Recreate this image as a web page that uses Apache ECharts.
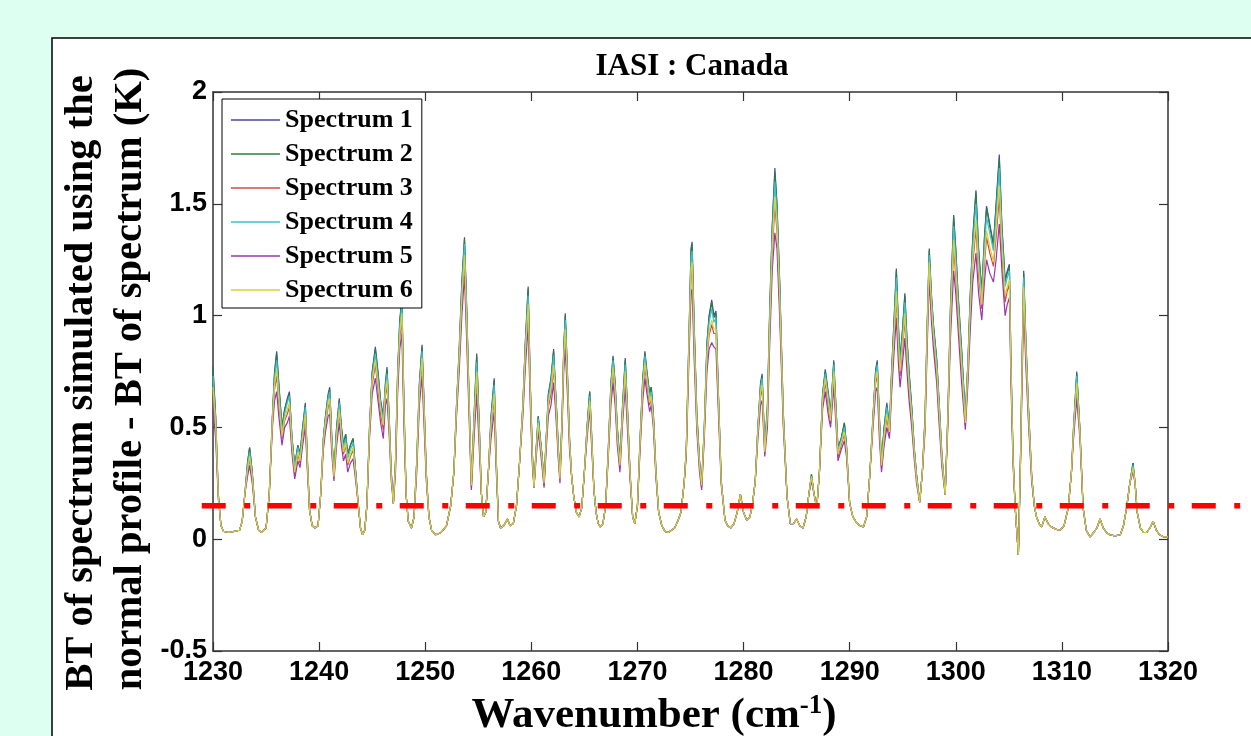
<!DOCTYPE html>
<html><head><meta charset="utf-8">
<script src="https://cdn.jsdelivr.net/npm/echarts@6/dist/echarts.min.js"></script>
<style>html,body{margin:0;padding:0;background:#dcfff2}#c{width:1251px;height:736px}</style>
</head><body><div id="c"></div>
<script>
// Wavenumber sample positions (cm^-1)
const WN=[1230,1230.25,1230.5,1230.75,1231,1231.5,1232,1232.5,1232.75,1233,
1233.25,1233.45,1233.7,1234,1234.3,1234.6,1235,1235.3,1235.6,1235.8,
1236,1236.2,1236.5,1236.75,1237,1237.2,1237.45,1237.7,1238,1238.2,
1238.45,1238.7,1238.9,1239.1,1239.35,1239.6,1239.9,1240.15,1240.4,1240.6,
1240.85,1241,1241.2,1241.4,1241.65,1241.9,1242.1,1242.3,1242.5,1242.7,
1242.95,1243.2,1243.45,1243.7,1243.9,1244.1,1244.3,1244.5,1244.75,1245,
1245.3,1245.55,1245.8,1246.05,1246.25,1246.4,1246.6,1246.8,1247,1247.2,
1247.4,1247.6,1247.8,1248,1248.2,1248.4,1248.7,1248.95,1249.2,1249.45,
1249.7,1249.9,1250.1,1250.35,1250.6,1251,1251.5,1252,1252.4,1252.7,
1252.95,1253.2,1253.45,1253.7,1253.9,1254.1,1254.35,1254.6,1254.85,1255.1,
1255.3,1255.5,1255.7,1255.95,1256.2,1256.5,1256.7,1256.9,1257.1,1257.4,
1257.75,1258,1258.3,1258.6,1258.9,1259.2,1259.45,1259.7,1259.9,1260.1,
1260.25,1260.45,1260.65,1260.85,1261,1261.2,1261.4,1261.6,1261.85,1262.1,
1262.25,1262.4,1262.55,1262.7,1262.9,1263.05,1263.2,1263.4,1263.6,1263.8,
1264,1264.25,1264.5,1264.75,1265,1265.25,1265.5,1265.7,1265.9,1266.1,
1266.3,1266.5,1266.75,1267,1267.25,1267.5,1267.7,1267.9,1268.1,1268.35,
1268.6,1268.85,1269.05,1269.3,1269.55,1269.75,1270,1270.25,1270.5,1270.7,
1270.9,1271.15,1271.3,1271.5,1271.75,1272,1272.3,1272.6,1272.9,1273.2,
1273.5,1273.8,1274.1,1274.4,1274.6,1274.85,1275.05,1275.15,1275.35,1275.6,
1275.85,1276.05,1276.3,1276.55,1276.75,1277,1277.2,1277.4,1277.6,1277.9,
1278.25,1278.5,1278.8,1279.1,1279.4,1279.7,1280,1280.3,1280.6,1280.85,
1281.1,1281.35,1281.6,1281.75,1282,1282.25,1282.45,1282.7,1282.95,1283.15,
1283.4,1283.75,1284.1,1284.4,1284.7,1285,1285.3,1285.6,1285.9,1286.15,
1286.4,1286.65,1286.9,1287.15,1287.45,1287.7,1288,1288.2,1288.5,1288.7,
1288.9,1289.2,1289.5,1289.7,1290,1290.3,1290.7,1291,1291.3,1291.6,
1291.9,1292.2,1292.45,1292.6,1292.8,1293,1293.25,1293.5,1293.75,1293.95,
1294.2,1294.4,1294.6,1294.75,1295,1295.2,1295.4,1295.6,1295.85,1296.1,
1296.3,1296.6,1296.85,1297.1,1297.3,1297.5,1297.7,1297.9,1298.2,1298.45,
1298.7,1299,1299.25,1299.5,1299.8,1300,1300.2,1300.55,1300.9,1301.15,
1301.35,1301.6,1301.9,1302.15,1302.45,1302.7,1302.9,1303.2,1303.55,1303.8,
1304.1,1304.35,1304.65,1304.85,1305.05,1305.2,1305.4,1305.6,1305.9,1306.1,
1306.25,1306.4,1306.6,1306.85,1307.15,1307.4,1307.6,1307.85,1308.1,1308.4,
1308.7,1309,1309.4,1309.8,1310.2,1310.6,1310.9,1311.1,1311.4,1311.7,
1312,1312.3,1312.65,1313,1313.3,1313.6,1313.9,1314.2,1314.5,1315,
1315.5,1315.8,1316.1,1316.4,1316.7,1316.9,1317.1,1317.4,1317.7,1318,
1318.3,1318.6,1318.9,1319.2,1319.6,1320];

const S1=[.77,.55,.2,.06,.035,.03,.035,.04,.08,.2,
.34,.41,.30,.1,.04,.03,.05,.2,.55,.75,
.84,.70,.50,.58,.63,.66,.45,.33,.42,.38,
.50,.61,.35,.13,.06,.05,.06,.2,.45,.55,
.65,.68,.45,.30,.50,.63,.50,.42,.47,.38,
.42,.45,.30,.15,.05,.02,.04,.15,.50,.75,
.86,.75,.62,.55,.70,.77,.55,.30,.16,.35,
.75,.98,1.08,.60,.2,.08,.05,.1,.35,.70,
.87,.60,.30,.1,.04,.02,.03,.06,.15,.3,
.60,.85,1.15,1.35,1.05,.70,.25,.55,.83,.50,
.2,.1,.12,.3,.55,.72,.35,.08,.05,.06,
.09,.06,.07,.15,.35,.60,.90,1.13,.70,.38,
.23,.40,.55,.45,.38,.26,.45,.65,.72,.85,
.70,.56,.40,.29,.55,.85,1.01,.75,.45,.28,
.19,.12,.1,.14,.3,.50,.66,.45,.22,.12,
.07,.055,.07,.15,.40,.70,.82,.70,.50,.35,
.60,.81,.60,.30,.1,.07,.15,.45,.72,.84,
.75,.65,.68,.56,.30,.12,.06,.035,.03,.04,
.05,.08,.12,.25,.40,.90,1.30,1.33,.95,.56,
.35,.25,.50,.88,1.00,1.07,1.00,1.02,.70,.26,
.085,.06,.05,.07,.12,.2,.12,.085,.1,.16,
.26,.50,.70,.74,.41,.60,1.00,1.40,1.66,1.50,
1.16,.56,.19,.07,.07,.09,.06,.05,.1,.2,
.29,.2,.14,.3,.65,.76,.65,.56,.80,.60,
.41,.45,.52,.42,.16,.1,.07,.06,.055,.1,
.29,.55,.76,.80,.55,.35,.50,.61,.50,.75,
1.00,1.21,.95,.81,.95,1.10,.90,.75,.59,.40,
.29,.165,.3,.54,.95,1.30,1.10,.96,.81,.60,
.37,.2,.55,1.04,1.45,1.30,1.11,.85,.55,.80,
1.08,1.35,1.56,1.30,1.11,1.35,1.49,1.41,1.32,1.50,
1.72,1.40,1.16,1.20,1.23,.80,.37,.14,-.07,.37,
.80,1.20,.90,.59,.29,.15,.1,.07,.055,.1,
.07,.055,.045,.04,.06,.14,.3,.50,.75,.49,
.14,.04,.01,.03,.05,.09,.05,.03,.02,.015,
.02,.06,.14,.25,.34,.25,.12,.05,.03,.03,
.05,.08,.04,.02,.01,.01];

const S2=[.76,.55,.2,.06,.035,.03,.035,.04,.08,.2,
.34,.41,.30,.1,.04,.03,.05,.2,.55,.74,
.83,.69,.50,.58,.62,.65,.45,.33,.42,.38,
.50,.60,.35,.13,.06,.05,.06,.2,.45,.55,
.64,.67,.45,.30,.50,.62,.50,.42,.47,.38,
.42,.45,.30,.15,.05,.02,.04,.15,.50,.74,
.85,.74,.61,.54,.69,.76,.55,.30,.16,.35,
.74,.97,1.07,.59,.2,.08,.05,.1,.35,.69,
.86,.59,.30,.1,.04,.02,.03,.06,.15,.3,
.60,.84,1.14,1.34,1.04,.69,.25,.54,.82,.50,
.2,.1,.12,.3,.54,.71,.35,.08,.05,.06,
.09,.06,.07,.15,.35,.60,.89,1.12,.69,.38,
.23,.40,.55,.45,.38,.26,.45,.64,.71,.84,
.69,.56,.40,.29,.55,.84,1.00,.74,.45,.28,
.19,.12,.1,.14,.3,.50,.66,.45,.22,.12,
.07,.055,.07,.15,.40,.69,.81,.69,.50,.35,
.60,.80,.59,.30,.1,.07,.15,.45,.71,.83,
.74,.65,.68,.56,.30,.12,.06,.035,.03,.04,
.05,.08,.12,.25,.40,.89,1.29,1.32,.94,.56,
.35,.25,.50,.87,.99,1.06,.99,1.01,.69,.26,
.085,.06,.05,.07,.12,.2,.12,.085,.1,.16,
.26,.50,.69,.73,.41,.59,.99,1.39,1.64,1.49,
1.15,.56,.19,.07,.07,.09,.06,.05,.1,.2,
.29,.2,.14,.3,.65,.75,.64,.56,.79,.60,
.41,.45,.52,.42,.16,.1,.07,.06,.055,.1,
.29,.55,.75,.79,.54,.35,.50,.60,.50,.74,
.99,1.20,.94,.80,.94,1.09,.89,.74,.59,.40,
.29,.165,.3,.54,.94,1.29,1.09,.95,.80,.59,
.37,.2,.55,1.03,1.44,1.29,1.10,.84,.55,.79,
1.07,1.34,1.55,1.29,1.10,1.34,1.48,1.40,1.31,1.49,
1.70,1.39,1.15,1.19,1.22,.79,.37,.14,-.07,.37,
.79,1.19,.89,.59,.29,.15,.1,.07,.055,.1,
.07,.055,.045,.04,.06,.14,.3,.50,.74,.49,
.14,.04,.01,.03,.05,.09,.05,.03,.02,.015,
.02,.06,.14,.25,.34,.25,.12,.05,.03,.03,
.05,.08,.04,.02,.01,.01];

const S3=[.66,.49,.19,.06,.035,.03,.035,.04,.08,.2,
.30,.36,.27,.1,.04,.03,.05,.2,.52,.67,
.73,.61,.45,.53,.56,.59,.41,.29,.38,.34,
.45,.54,.32,.13,.06,.05,.06,.2,.42,.51,
.59,.61,.41,.28,.45,.56,.45,.38,.42,.33,
.37,.40,.28,.15,.05,.02,.04,.15,.47,.69,
.78,.67,.56,.49,.64,.69,.50,.28,.16,.32,
.69,.90,.98,.54,.2,.08,.05,.1,.32,.64,
.79,.54,.28,.1,.04,.02,.03,.06,.15,.3,
.57,.79,1.06,1.25,.96,.64,.23,.49,.72,.44,
.2,.1,.12,.3,.49,.63,.32,.08,.05,.06,
.09,.06,.07,.15,.35,.57,.83,1.02,.64,.35,
.23,.38,.51,.42,.35,.24,.42,.59,.65,.76,
.64,.51,.37,.27,.52,.79,.91,.69,.42,.28,
.19,.12,.1,.14,.3,.47,.61,.42,.22,.12,
.07,.055,.07,.15,.38,.64,.75,.64,.45,.32,
.55,.73,.54,.28,.1,.07,.15,.42,.66,.77,
.69,.60,.63,.52,.28,.12,.06,.035,.03,.04,
.05,.08,.12,.25,.38,.84,1.18,1.20,.86,.51,
.32,.23,.47,.80,.91,.96,.92,.92,.64,.25,
.085,.06,.05,.07,.12,.2,.12,.085,.1,.16,
.26,.47,.64,.67,.39,.54,.91,1.28,1.49,1.38,
1.06,.52,.19,.07,.07,.09,.06,.05,.1,.2,
.27,.2,.14,.3,.61,.70,.59,.52,.73,.55,
.37,.42,.47,.39,.16,.1,.07,.06,.055,.1,
.29,.52,.70,.73,.49,.32,.45,.54,.47,.69,
.91,1.08,.85,.73,.86,.98,.81,.67,.54,.37,
.27,.165,.3,.50,.89,1.22,1.03,.89,.74,.54,
.34,.2,.52,.96,1.30,1.18,1.01,.76,.51,.74,
.98,1.23,1.39,1.18,1.03,1.23,1.35,1.28,1.22,1.35,
1.53,1.28,1.06,1.11,1.14,.74,.35,.14,-.07,.35,
.74,1.11,.83,.55,.27,.15,.1,.07,.055,.1,
.07,.055,.045,.04,.06,.14,.3,.47,.68,.47,
.14,.04,.01,.03,.05,.09,.05,.03,.02,.015,
.02,.06,.14,.25,.32,.25,.12,.05,.03,.03,
.05,.08,.04,.02,.01,.01];

const S4=[.73,.53,.2,.06,.035,.03,.035,.04,.08,.2,
.33,.39,.29,.1,.04,.03,.05,.2,.54,.72,
.80,.67,.48,.56,.61,.64,.44,.32,.41,.37,
.48,.59,.34,.13,.06,.05,.06,.2,.44,.54,
.63,.66,.44,.29,.48,.61,.48,.41,.45,.36,
.40,.43,.29,.15,.05,.02,.04,.15,.49,.73,
.83,.72,.60,.53,.68,.74,.53,.29,.16,.34,
.73,.95,1.05,.58,.2,.08,.05,.1,.34,.68,
.84,.58,.29,.1,.04,.02,.03,.06,.15,.3,
.59,.83,1.12,1.32,1.02,.68,.24,.53,.79,.48,
.2,.1,.12,.3,.53,.69,.34,.08,.05,.06,
.09,.06,.07,.15,.35,.59,.88,1.09,.68,.37,
.23,.39,.54,.44,.37,.25,.44,.63,.70,.82,
.68,.54,.39,.28,.54,.83,.98,.73,.44,.28,
.19,.12,.1,.14,.3,.49,.64,.44,.22,.12,
.07,.055,.07,.15,.39,.68,.80,.68,.48,.34,
.58,.78,.58,.29,.1,.07,.15,.44,.70,.82,
.73,.63,.66,.55,.29,.12,.06,.035,.03,.04,
.05,.08,.12,.25,.39,.88,1.26,1.29,.92,.54,
.34,.24,.49,.85,.97,1.03,.97,.99,.68,.26,
.085,.06,.05,.07,.12,.2,.12,.085,.1,.16,
.26,.49,.68,.72,.40,.58,.97,1.36,1.60,1.46,
1.13,.55,.19,.07,.07,.09,.06,.05,.1,.2,
.28,.2,.14,.3,.64,.74,.63,.55,.78,.58,
.40,.44,.50,.41,.16,.1,.07,.06,.055,.1,
.29,.54,.74,.78,.53,.34,.48,.59,.49,.73,
.97,1.17,.92,.78,.92,1.06,.87,.72,.57,.39,
.28,.165,.3,.53,.93,1.27,1.08,.94,.79,.58,
.36,.2,.54,1.01,1.40,1.26,1.08,.82,.54,.78,
1.05,1.31,1.50,1.26,1.08,1.31,1.44,1.37,1.29,1.45,
1.66,1.36,1.13,1.17,1.20,.78,.36,.14,-.07,.36,
.78,1.17,.88,.58,.28,.15,.1,.07,.055,.1,
.07,.055,.045,.04,.06,.14,.3,.49,.73,.48,
.14,.04,.01,.03,.05,.09,.05,.03,.02,.015,
.02,.06,.14,.25,.33,.25,.12,.05,.03,.03,
.05,.08,.04,.02,.01,.01];

const S5=[.58,.45,.18,.06,.035,.03,.035,.04,.08,.2,
.28,.33,.25,.1,.04,.03,.05,.2,.50,.62,
.66,.55,.42,.50,.52,.55,.38,.27,.35,.32,
.42,.50,.30,.13,.06,.05,.06,.2,.40,.48,
.55,.56,.38,.26,.42,.52,.42,.35,.38,.30,
.34,.36,.26,.15,.05,.02,.04,.15,.45,.65,
.72,.62,.52,.45,.60,.63,.47,.26,.16,.30,
.65,.85,.92,.50,.2,.08,.05,.1,.30,.60,
.73,.50,.26,.1,.04,.02,.03,.06,.15,.3,
.55,.75,1.00,1.18,.90,.60,.22,.45,.65,.40,
.2,.1,.12,.3,.45,.57,.30,.08,.05,.06,
.09,.06,.07,.15,.35,.55,.78,.95,.60,.33,
.23,.36,.48,.40,.33,.23,.40,.55,.60,.70,
.60,.48,.35,.25,.50,.75,.85,.65,.40,.28,
.19,.12,.1,.14,.3,.45,.58,.40,.22,.12,
.07,.055,.07,.15,.36,.60,.70,.60,.42,.30,
.52,.68,.50,.27,.1,.07,.15,.40,.62,.72,
.65,.57,.60,.50,.27,.12,.06,.035,.03,.04,
.05,.08,.12,.25,.37,.80,1.10,1.12,.80,.48,
.30,.22,.45,.75,.85,.88,.86,.85,.60,.24,
.085,.06,.05,.07,.12,.2,.12,.085,.1,.16,
.26,.45,.60,.62,.37,.50,.85,1.20,1.37,1.30,
1.00,.50,.19,.07,.07,.09,.06,.05,.1,.2,
.26,.2,.14,.3,.58,.66,.55,.50,.68,.52,
.35,.40,.44,.37,.16,.1,.07,.06,.055,.1,
.29,.50,.66,.68,.45,.30,.42,.50,.45,.65,
.85,.99,.78,.68,.80,.90,.75,.62,.50,.35,
.25,.165,.3,.48,.85,1.16,.98,.85,.70,.50,
.32,.2,.50,.90,1.20,1.10,.95,.70,.49,.70,
.92,1.15,1.28,1.10,.98,1.15,1.25,1.19,1.15,1.25,
1.41,1.20,1.00,1.05,1.08,.70,.33,.14,-.07,.33,
.70,1.05,.78,.52,.26,.15,.1,.07,.055,.1,
.07,.055,.045,.04,.06,.14,.3,.45,.63,.45,
.14,.04,.01,.03,.05,.09,.05,.03,.02,.015,
.02,.06,.14,.25,.30,.25,.12,.05,.03,.03,
.05,.08,.04,.02,.01,.01];

const S6=[.68,.51,.19,.06,.035,.03,.035,.04,.08,.2,
.31,.37,.28,.1,.04,.03,.05,.2,.53,.69,
.76,.63,.46,.54,.58,.61,.42,.30,.39,.35,
.46,.56,.33,.13,.06,.05,.06,.2,.43,.52,
.61,.63,.42,.28,.46,.58,.46,.39,.43,.34,
.38,.41,.28,.15,.05,.02,.04,.15,.48,.71,
.80,.69,.58,.51,.66,.71,.51,.28,.16,.33,
.71,.92,1.01,.56,.2,.08,.05,.1,.33,.66,
.81,.56,.28,.1,.04,.02,.03,.06,.15,.3,
.58,.81,1.08,1.27,.98,.66,.24,.51,.75,.46,
.2,.1,.12,.3,.51,.65,.33,.08,.05,.06,
.09,.06,.07,.15,.35,.58,.85,1.05,.66,.36,
.23,.38,.52,.43,.36,.25,.43,.61,.67,.78,
.66,.52,.38,.27,.53,.81,.94,.71,.43,.28,
.19,.12,.1,.14,.3,.48,.62,.43,.22,.12,
.07,.055,.07,.15,.38,.66,.77,.66,.46,.33,
.56,.75,.56,.29,.1,.07,.15,.43,.68,.79,
.71,.61,.64,.53,.29,.12,.06,.035,.03,.04,
.05,.08,.12,.25,.39,.86,1.21,1.24,.88,.52,
.33,.24,.48,.82,.93,.98,.94,.94,.66,.25,
.085,.06,.05,.07,.12,.2,.12,.085,.1,.16,
.26,.48,.66,.69,.39,.56,.93,1.31,1.53,1.41,
1.09,.53,.19,.07,.07,.09,.06,.05,.1,.2,
.28,.2,.14,.3,.62,.72,.61,.53,.75,.56,
.38,.43,.48,.40,.16,.1,.07,.06,.055,.1,
.29,.53,.72,.75,.51,.33,.46,.56,.48,.71,
.93,1.11,.87,.75,.88,1.01,.83,.69,.55,.38,
.27,.165,.3,.51,.91,1.24,1.05,.91,.76,.56,
.35,.2,.53,.98,1.34,1.21,1.04,.78,.52,.76,
1.01,1.26,1.43,1.21,1.05,1.26,1.38,1.31,1.24,1.39,
1.58,1.31,1.09,1.13,1.16,.76,.35,.14,-.07,.35,
.76,1.13,.85,.56,.28,.15,.1,.07,.055,.1,
.07,.055,.045,.04,.06,.14,.3,.48,.70,.47,
.14,.04,.01,.03,.05,.09,.05,.03,.02,.015,
.02,.06,.14,.25,.32,.25,.12,.05,.03,.03,
.05,.08,.04,.02,.01,.01];

const SERIES_NAMES=['Spectrum 1','Spectrum 2','Spectrum 3','Spectrum 4','Spectrum 5','Spectrum 6'];
const SERIES_VALUES=[S1,S2,S3,S4,S5,S6];
const SERIES_COLORS=['#4747a8','#2e7d3e','#d24a45','#3cc3c8','#9a36aa','#d8d23a'];

// Reference threshold line (K) and its wavenumber extent
const REF_LEVEL=0.15;
const REF_SPAN=[1228.94,1326.8];

const X_RANGE=[1230,1320], X_STEP=10;
const Y_RANGE=[-0.5,2], Y_STEP=0.5;

const TITLE='IASI : Canada';
const Y_TITLE=['BT of spectrum simulated using the','normal profile - BT of spectrum (K)'];

const W=1251,H=736;
const GRID={left:213,top:92,right:83,bottom:85};
const plotW=W-GRID.left-GRID.right, plotH=H-GRID.top-GRID.bottom;
const xPerPx=(X_RANGE[1]-X_RANGE[0])/plotW, yPerPx=(Y_RANGE[1]-Y_RANGE[0])/plotH;
// full-canvas overlay scale identical to the main plot scale (so the reference line can run past the frame)
const OX=[X_RANGE[0]-GRID.left*xPerPx, X_RANGE[1]+GRID.right*xPerPx];
const OY=[Y_RANGE[0]-GRID.bottom*yPerPx, Y_RANGE[1]+GRID.top*yPerPx];

const chart=echarts.init(document.getElementById('c'),null,{renderer:'canvas'});
const serif='"Liberation Serif","Times New Roman",serif';
const sans='"Liberation Sans",Arial,sans-serif';
const axisLine={show:true,onZero:false,lineStyle:{color:'#333',width:1.5}};
const axisTick={show:true,inside:true,length:9,lineStyle:{color:'#333',width:1.2}};
const tickFont={fontFamily:sans,fontWeight:'bold',fontSize:27,color:'#000',formatter:v=>String(v)};

const series=SERIES_VALUES.map((vals,i)=>({
  name:SERIES_NAMES[i],type:'line',symbol:'none',
  xAxisIndex:0,yAxisIndex:0,
  data:WN.map((x,j)=>[x,vals[j]]),
  lineStyle:{color:SERIES_COLORS[i],width:1.2},
  itemStyle:{color:SERIES_COLORS[i]},
  animation:false,z:2
}));
series.push({
  name:'ref',type:'line',symbol:'none',silent:true,
  xAxisIndex:2,yAxisIndex:2,
  data:REF_SPAN.map(x=>[x,REF_LEVEL]),
  lineStyle:{color:'#ff0000',width:5.5,type:[24,18.5,6,17.5],cap:'butt'},
  animation:false,z:5
});

chart.setOption({
  backgroundColor:'#dcfff2',
  animation:false,
  graphic:[
    {type:'rect',z:-10,silent:true,shape:{x:52,y:38,width:1300,height:800},style:{fill:'#fff',stroke:'#000',lineWidth:1.5}},
    {type:'text',z:10,x:692,y:67,style:{text:TITLE,font:'bold 31px '+serif,fill:'#000',align:'center',verticalAlign:'middle',textAlign:'center',textVerticalAlign:'middle'}},
    {type:'text',z:10,x:82,y:383,rotation:Math.PI/2,style:{text:Y_TITLE[0],font:'bold 40.5px '+serif,fill:'#000',align:'center',verticalAlign:'middle',textAlign:'center',textVerticalAlign:'middle'}},
    {type:'text',z:10,x:131,y:379,rotation:Math.PI/2,style:{text:Y_TITLE[1],font:'bold 40.5px '+serif,fill:'#000',align:'center',verticalAlign:'middle',textAlign:'center',textVerticalAlign:'middle'}},
    {type:'text',z:10,x:654,y:716,style:{
      text:'{a|Wavenumber (cm}{b|-1}{a|)}',
      align:'center',verticalAlign:'middle',textAlign:'center',textVerticalAlign:'middle',
      rich:{a:{fontFamily:serif,fontWeight:'bold',fontSize:43,color:'#000',lineHeight:46},
            b:{fontFamily:serif,fontWeight:'bold',fontSize:27,color:'#000',verticalAlign:'top',lineHeight:46,padding:[0,0,14,0]}}}}
  ],
  grid:[
    {left:GRID.left,top:GRID.top,right:GRID.right,bottom:GRID.bottom,containLabel:false},
    {left:0,top:0,right:0,bottom:0,containLabel:false}
  ],
  legend:{
    data:SERIES_NAMES,orient:'vertical',left:222,top:99,
    icon:'rect',itemWidth:49,itemHeight:1.5,itemGap:8,padding:[8,9,5,9],
    backgroundColor:'#fff',borderColor:'#000',borderWidth:1,
    textStyle:{fontFamily:serif,fontWeight:'bold',fontSize:26,lineHeight:26,color:'#000'},
    z:6
  },
  xAxis:[
    {type:'value',gridIndex:0,position:'bottom',min:X_RANGE[0],max:X_RANGE[1],interval:X_STEP,
     axisLine,axisTick,axisLabel:Object.assign({margin:8,showMinLabel:true,showMaxLabel:true},tickFont),splitLine:{show:false}},
    {type:'value',gridIndex:0,position:'top',min:X_RANGE[0],max:X_RANGE[1],interval:X_STEP,
     axisLine,axisTick,axisLabel:{show:false},splitLine:{show:false}},
    {type:'value',gridIndex:1,show:false,min:OX[0],max:OX[1]}
  ],
  yAxis:[
    {type:'value',gridIndex:0,position:'left',min:Y_RANGE[0],max:Y_RANGE[1],interval:Y_STEP,
     axisLine,axisTick,axisLabel:Object.assign({margin:6,showMinLabel:true,showMaxLabel:true},tickFont),splitLine:{show:false}},
    {type:'value',gridIndex:0,position:'right',min:Y_RANGE[0],max:Y_RANGE[1],interval:Y_STEP,
     axisLine,axisTick,axisLabel:{show:false},splitLine:{show:false}},
    {type:'value',gridIndex:1,show:false,min:OY[0],max:OY[1]}
  ],
  series
});
</script></body></html>
